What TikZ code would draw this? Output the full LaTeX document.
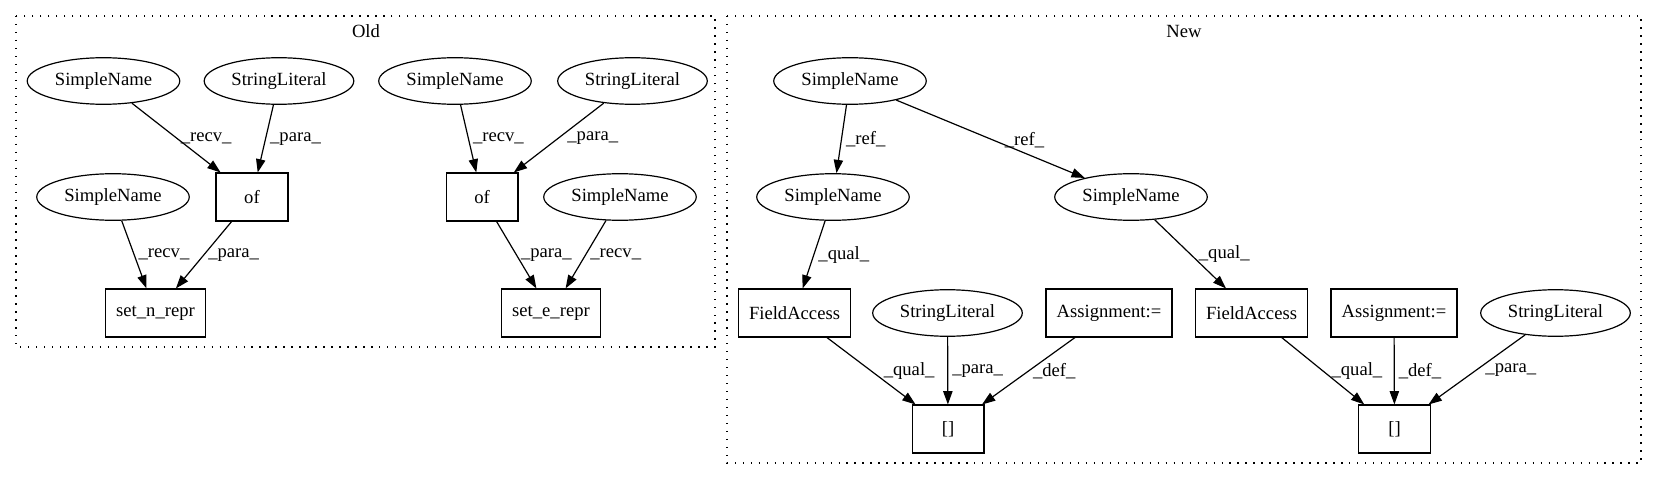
\documentclass[tikz,border=0pt]{standalone}
\usepackage{fontspec}
\setmainfont{Liberation Serif}
\usetikzlibrary{shapes.geometric,arrows.meta}

\begin{document}
\begin{tikzpicture}[x=0.752pt,y=-0.752pt,line width=.9pt,
    font=\fontsize{14pt}{16pt}\selectfont,
    >={Triangle[length=10pt,width=7pt]},
    ast/.style={ellipse,draw,minimum height=35pt,inner xsep=4pt},
    op/.style={rectangle,draw,minimum width=54pt,minimum height=36pt,inner xsep=8pt},
    lbl/.style={inner xsep=3pt,inner ysep=1pt},
    grp/.style={draw,dash pattern=on 1pt off 5pt,line width=1pt}];
      \useasboundingbox (0,0) rectangle (1657,480);
      \begin{scope}[shift={(0,0)}]
        \draw[grp](16,16) rectangle (715,347);
        \node(old) at (366,31){Old};
        \node[ast](S1) at (103.5,81){SimpleName};
        \node[ast](L1) at (279,81){StringLiteral};
        \node[op](O1) at (252,197){of};
        \node[ast](S2) at (113,197){SimpleName};
        \node[op](SN) at (155.5,313){set\_n\_repr};
        \node[ast](S3) at (455,81){SimpleName};
        \node[ast](L2) at (632.5,81){StringLiteral};
        \node[op](O2) at (482,197){of};
        \node[ast](S4) at (620,197){SimpleName};
        \node[op](SE) at (551,313){set\_e\_repr};
        \draw[->](S1)--(O1)node[lbl,midway,right]{\_recv\_};
        \draw[->](L1)--(O1)node[lbl,midway,right]{\_para\_};
        \draw[->](S2)--(SN)node[lbl,midway,right]{\_recv\_};
        \draw[->](O1)--(SN)node[lbl,midway,right]{\_para\_};
        \draw[->](S3)--(O2)node[lbl,midway,right]{\_recv\_};
        \draw[->](L2)--(O2)node[lbl,midway,right,xshift=3pt]{\_para\_};
        \draw[->](O2)--(SE)node[lbl,midway,right]{\_para\_};
        \draw[->](S4)--(SE)node[lbl,midway,right]{\_recv\_};
      \end{scope}
      \begin{scope}[shift={(720,0)}]
        \draw[grp](7,16) rectangle (921,463);
        \node(new) at (464,31){New};
        \node[ast](R) at (130,81){SimpleName};
        \node[ast](Ra) at (113,197){SimpleName};
        \node[ast](Rb) at (411,197){SimpleName};
        \node[op](Fa) at (74.5,313){FieldAccess};
        \node[ast](La) at (227.5,313){StringLiteral};
        \node[op](Aa) at (389,313){Assignment:=};
        \node[op](Ba) at (228,429){[]};
        \node[op](Fb) at (531.5,313){FieldAccess};
        \node[op](Ab) at (674,313){Assignment:=};
        \node[ast](Lb) at (835.5,313){StringLiteral};
        \node[op](Bb) at (674.5,429){[]};
        \draw[->](R)--(Ra)node[lbl,midway,right]{\_ref\_};
        \draw[->](R)--(Rb)node[pos=.68,above]{\_ref\_}; %label sits above the line
        \draw[->](Ra)--(Fa)node[lbl,midway,right]{\_qual\_};
        \draw[->](Rb)--(Fb)node[lbl,midway,right,xshift=3pt]{\_qual\_};
        \draw[->](Fa)--(Ba)node[lbl,midway,right,xshift=6pt]{\_qual\_};
        \draw[->](La)--(Ba)node[lbl,midway,right]{\_para\_};
        \draw[->](Aa)--(Ba)node[lbl,midway,right]{\_def\_};
        \draw[->](Fb)--(Bb)node[lbl,midway,right,xshift=3pt]{\_qual\_};
        \draw[->](Ab)--(Bb)node[lbl,midway,right]{\_def\_};
        \draw[->](Lb)--(Bb)node[lbl,midway,right,xshift=3pt]{\_para\_};
      \end{scope}
    \end{tikzpicture}
\end{document}
